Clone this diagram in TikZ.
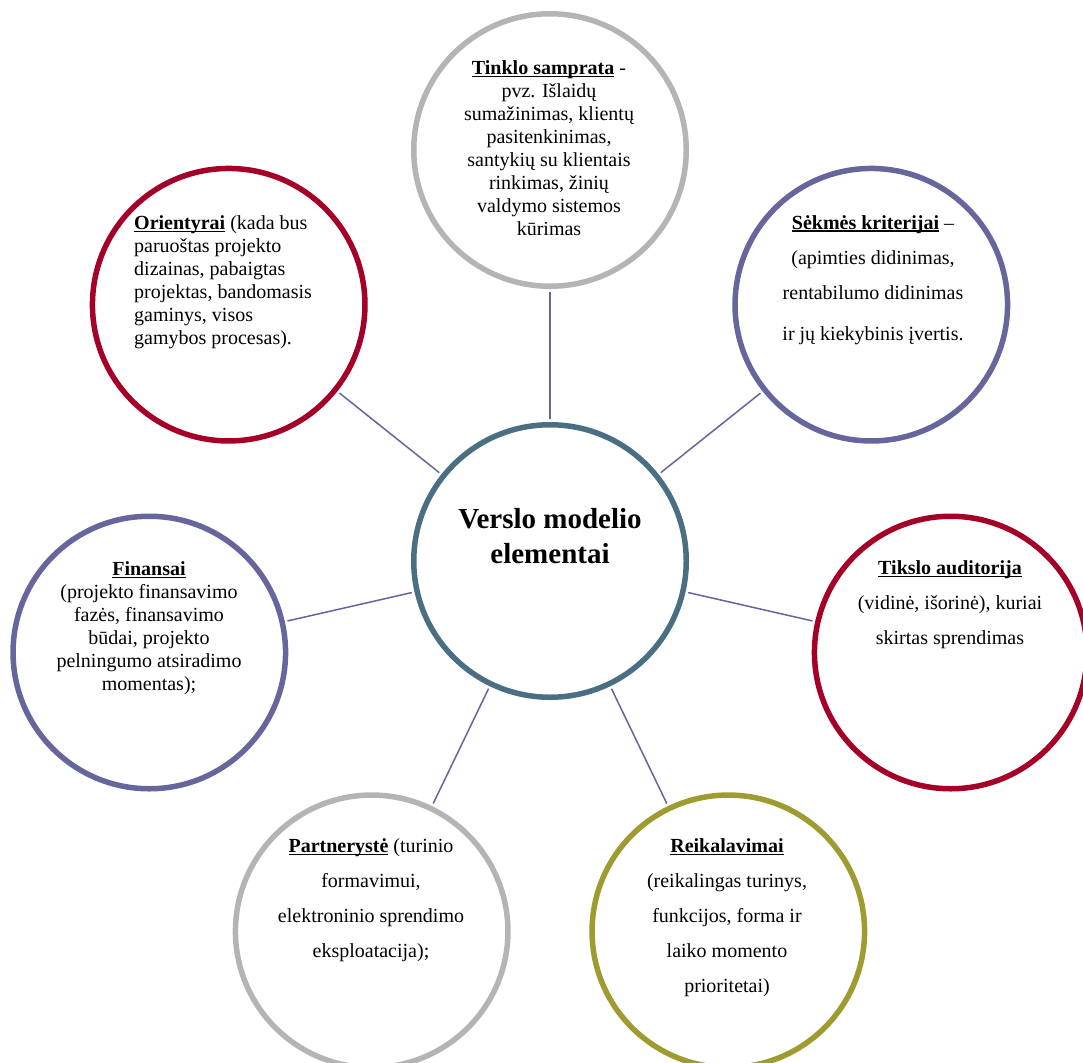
\documentclass[tikz,border=0pt]{standalone}
\usepackage{fontspec}
\setmainfont{Liberation Serif}
\newcommand{\hul}[1]{\setbox0\hbox{\textbf{#1}}\rlap{\rule[-2.6pt]{\wd0}{1.4pt}}\box0\relax}
\definecolor{ringgray}{RGB}{180,180,180}
\definecolor{ringred}{RGB}{165,0,40}
\definecolor{ringblue}{RGB}{102,102,156}
\definecolor{ringolive}{RGB}{158,156,48}
\definecolor{ringcenter}{RGB}{74,110,130}
\definecolor{connline}{RGB}{100,100,160}
\tikzset{
  ring/.style={circle, draw=#1, line width=5.5pt, fill=white, minimum size=272.5pt, inner sep=0pt},
  conn/.style={draw=connline, line width=1.5pt, shorten <=2.75pt, shorten >=2.75pt},
  tight/.style={font=\fontsize{20}{23}\selectfont, align=center, inner sep=0pt},
  loose/.style={font=\fontsize{20}{35}\selectfont, align=center, inner sep=0pt},
}
\begin{document}
\begin{tikzpicture}[x=1pt,y=-1pt]
\useasboundingbox (0,0) rectangle (1083,1062);
\clip (0,0) rectangle (1083,1062);
% circles
\node[ring=ringcenter] (cCen) at (550,561) {};
\node[ring=ringgray]   (cTop) at (550,150) {};
\node[ring=ringblue]   (cSek) at (871.3,304.7) {};
\node[ring=ringred]    (cTik) at (950.7,652.5) {};
\node[ring=ringolive]  (cRei) at (728.3,931.3) {};
\node[ring=ringgray]   (cPar) at (371.7,931.3) {};
\node[ring=ringblue]   (cFin) at (149.3,652.5) {};
\node[ring=ringred]    (cOri) at (228.7,304.7) {};
% connectors
\draw[conn] (cCen) -- (cTop);
\draw[conn] (cCen) -- (cSek);
\draw[conn] (cCen) -- (cTik);
\draw[conn] (cCen) -- (cRei);
\draw[conn] (cCen) -- (cPar);
\draw[conn] (cCen) -- (cFin);
\draw[conn] (cCen) -- (cOri);
% texts
\node[inner sep=0pt, align=center, font=\fontsize{29}{35}\selectfont\bfseries] (tCen) at (550,536.5) {Verslo modelio\\elementai};
\node[tight] (tTop) at (549,148) {\hul{Tinklo samprata} -\\pvz. Išlaidų\\sumažinimas, klientų\\pasitenkinimas,\\santykių su klientais\\rinkimas, žinių\\valdymo sistemos\\kūrimas};
\node[tight, align=left, anchor=west] (tOri) at (134,282.5) {\hul{Orientyrai} (kada bus\\paruoštas projekto\\dizainas, pabaigtas\\projektas, bandomasis\\gaminys, visos\\gamybos procesas).};
\node[loose] (tSek) at (873,280) {\hul{Sėkmės kriterijai} –\\(apimties didinimas,\\rentabilumo didinimas\\[6pt]ir jų kiekybinis įvertis.};
\node[loose] (tTik) at (950,605) {\hul{Tikslo auditorija}\\(vidinė, išorinė), kuriai\\skirtas sprendimas};
\node[tight] (tFin) at (149,628.5) {\hul{Finansai}\\(projekto finansavimo\\fazės, finansavimo\\būdai, projekto\\pelningumo atsiradimo\\momentas);};
\node[loose] (tPar) at (371,900.5) {\hul{Partnerystė} (turinio\\formavimui,\\elektroninio sprendimo\\eksploatacija);};
\node[loose] (tRei) at (727,918) {\hul{Reikalavimai}\\(reikalingas turinys,\\funkcijos, forma ir\\laiko momento\\prioritetai)};
\end{tikzpicture}
\end{document}
